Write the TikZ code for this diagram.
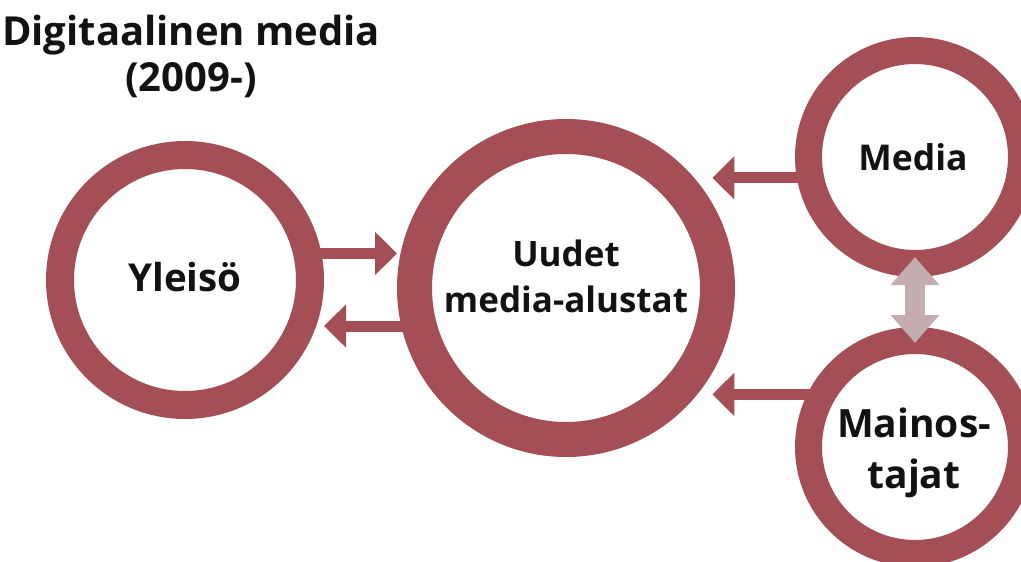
\documentclass[tikz,border=0pt]{standalone}
\usepackage{fontspec}
\setmainfont{Open Sans}
\usetikzlibrary{arrows.meta}
\definecolor{ringred}{RGB}{164,78,85}
\definecolor{pairgrey}{RGB}{197,172,174}
\tikzset{
  ring/.style={circle, draw=ringred, fill=white, line width=#1, inner sep=0pt},
  lbl/.style n args={2}{font=\fontsize{#1}{#2}\selectfont\bfseries, text=black!93, align=center, inner sep=0pt},
  flow/.style={draw=ringred, line width=11pt, shorten <=-6pt, -{Triangle[width=42pt,length=22pt]}},
  pair/.style={draw=pairgrey, line width=20pt, {Triangle[width=47pt,length=28pt]}-{Triangle[width=47pt,length=28pt]}}
}
\begin{document}
\begin{tikzpicture}[x=1pt,y=-1pt]
  \useasboundingbox (0,0) rectangle (1021,562);
  % title
  \node[lbl={40}{46}] (title) at (191,56) {Digitaalinen media\\(2009-)};
  % rings
  \node[ring=28pt, minimum size=250pt] (yle) at (185,280) {};
  \node[ring=35pt, minimum size=303pt] (uud) at (566,288) {};
  \node[ring=27pt, minimum size=213pt] (med) at (915,157) {};
  \node[ring=27pt, minimum size=213pt] (mai) at (915,447) {};
  % texts
  \node[lbl={38.5}{46}] (yletxt) at (185,277) {Yleisö};
  \node[lbl={35}{46}] (uudtxt) at (566,276) {Uudet\\media-alustat};
  \node[lbl={35.5}{46}] (medtxt) at (913,157) {Media};
  \node[lbl={39}{51}] (maitxt) at (914,453) {Mainos-\\tajat};
  % arrows
  \draw[flow] (yle.11) -- (yle.11 -| uud.west);
  \draw[flow] (uud.193) -- (uud.193 -| yle.east);
  \draw[flow] (med.190) -- (med.190 -| uud.30);
  \draw[flow] (mai.154) -- (mai.154 -| uud.-30);
  \draw[pair] ([yshift=20pt]med.south) -- ([yshift=-16pt]mai.north);
\end{tikzpicture}
\end{document}
